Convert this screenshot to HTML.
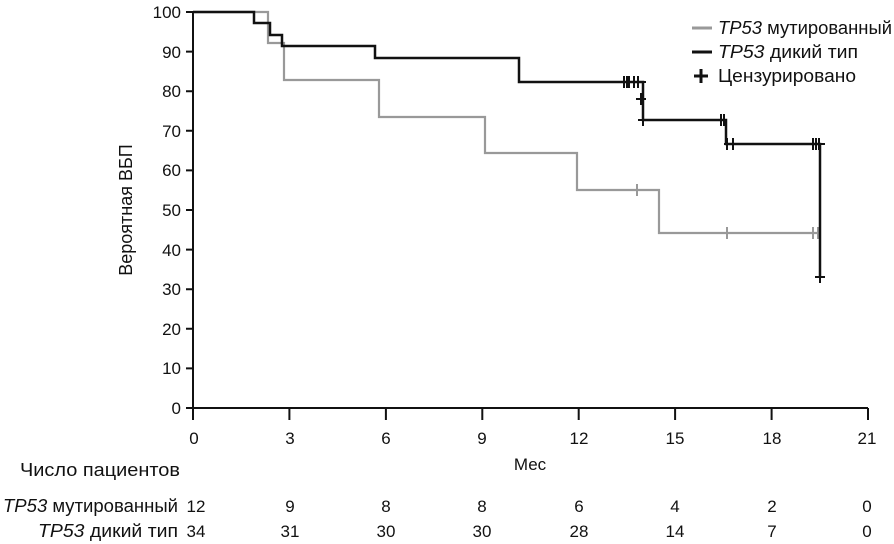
<!DOCTYPE html>
<html><head><meta charset="utf-8"><style>body{margin:0;background:#fff}svg{display:block}text{font-family:"Liberation Sans Narrow","Liberation Sans",sans-serif;font-size:18px;fill:#111}.n{font-size:17px}</style></head>
<body>
<svg width="894" height="544" viewBox="0 0 894 544" xmlns="http://www.w3.org/2000/svg">
<g stroke="#111" stroke-width="2" fill="none">
<line x1="193" y1="11" x2="193" y2="409"/>
<line x1="192" y1="408" x2="868" y2="408"/>
<path d="M186 12H193M186 51.6H193M186 91.2H193M186 130.8H193M186 170.4H193M186 210H193M186 249.6H193M186 289.2H193M186 328.8H193M186 368.4H193M186 408H193"/>
<path d="M193 408V420M289.4 408V420M385.9 408V420M482.3 408V420M578.7 408V420M675.1 408V420M771.6 408V420M868 408V420"/>
</g>
<g text-anchor="end">
<text class="n" x="181" y="18">100</text><text class="n" x="181" y="58">90</text><text class="n" x="181" y="97">80</text><text class="n" x="181" y="137">70</text><text class="n" x="181" y="176">60</text><text class="n" x="181" y="216">50</text><text class="n" x="181" y="256">40</text><text class="n" x="181" y="295">30</text><text class="n" x="181" y="335">20</text><text class="n" x="181" y="374">10</text><text class="n" x="181" y="414">0</text>
</g>
<g text-anchor="middle">
<text class="n" x="194" y="444">0</text><text class="n" x="290" y="444">3</text><text class="n" x="386" y="444">6</text><text class="n" x="482" y="444">9</text><text class="n" x="579" y="444">12</text><text class="n" x="675" y="444">15</text><text class="n" x="772" y="444">18</text><text class="n" x="867" y="444">21</text>
<text x="530" y="470" class="n">Мес</text>
<text transform="translate(132 210) rotate(-90)">Вероятная ВБП</text>
<text class="n" x="196" y="512">12</text><text class="n" x="290" y="512">9</text><text class="n" x="386" y="512">8</text><text class="n" x="482" y="512">8</text><text class="n" x="579" y="512">6</text><text class="n" x="675" y="512">4</text><text class="n" x="772" y="512">2</text><text class="n" x="867" y="512">0</text>
<text class="n" x="196" y="537">34</text><text class="n" x="290" y="537">31</text><text class="n" x="386" y="537">30</text><text class="n" x="482" y="537">30</text><text class="n" x="579" y="537">28</text><text class="n" x="675" y="537">14</text><text class="n" x="772" y="537">7</text><text class="n" x="867" y="537">0</text>
</g>
<text x="20" y="476" textLength="160" lengthAdjust="spacingAndGlyphs">Число пациентов</text>
<text x="3" y="512" textLength="175" lengthAdjust="spacingAndGlyphs"><tspan font-style="italic">TP53</tspan> мутированный</text>
<text x="38" y="537" textLength="140" lengthAdjust="spacingAndGlyphs"><tspan font-style="italic">TP53</tspan> дикий тип</text>
<path d="M193 12H268V43H284V80H379V117H485V153H577V190H659V233H820" stroke="#999" stroke-width="2.2" fill="none"/>
<g stroke="#999" stroke-width="2"><path d="M637 184V196M727 227V239M813 227V239M818 227V239"/></g>
<path d="M193 12H254V23H270V35H282V46H375V58H519V82H643V120H726V144H820V277" stroke="#111" stroke-width="2.5" fill="none"/>
<g stroke="#111" stroke-width="2"><path d="M624 76V88M627 76V88M629 76V88M634 76V88M638 76V88M636 82H646M641 93V105M636 99H646M643 114V126M638 120H648M721 114V126M724 114V126M727 138V150M733 138V150M724 144H738M813 138V150M816 138V150M819 138V150M810 144H825M820 271V283M815 277H825"/></g>
<line x1="692" y1="28" x2="712" y2="28" stroke="#999" stroke-width="3"/>
<line x1="692" y1="52" x2="712" y2="52" stroke="#111" stroke-width="3"/>
<path d="M694 76H708M701 69V83" stroke="#111" stroke-width="3"/>
<text x="718" y="34" textLength="174" lengthAdjust="spacingAndGlyphs"><tspan font-style="italic">TP53</tspan> мутированный</text>
<text x="718" y="58" textLength="140" lengthAdjust="spacingAndGlyphs"><tspan font-style="italic">TP53</tspan> дикий тип</text>
<text x="718" y="82" textLength="138" lengthAdjust="spacingAndGlyphs">Цензурировано</text>
</svg>
</body></html>
